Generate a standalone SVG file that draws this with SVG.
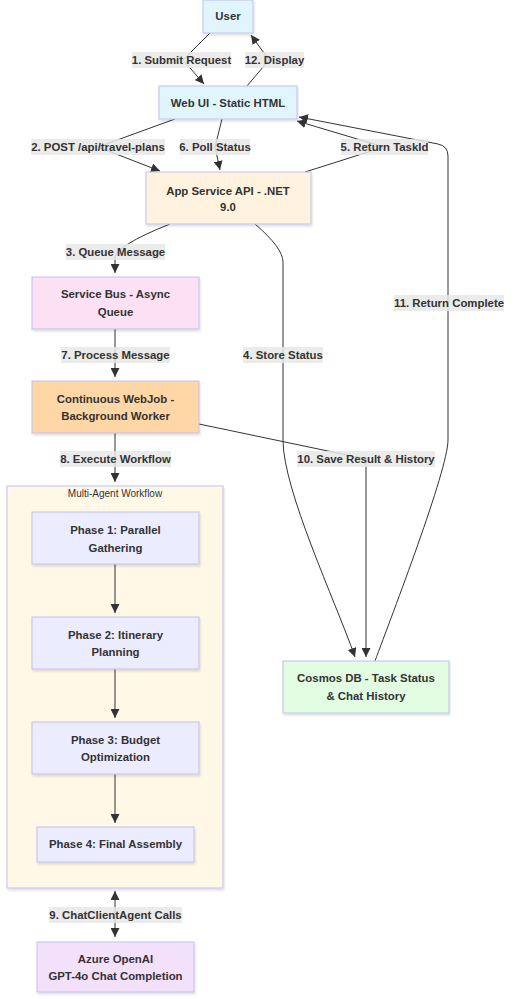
<svg xmlns="http://www.w3.org/2000/svg" width="514" height="999" viewBox="0 0 514 999">
<style>
.node rect{stroke:#c0c0f0;stroke-width:1}
.t{font-family:"Liberation Sans",Arial,sans-serif;font-size:11.4px;font-weight:bold;fill:#333;text-anchor:middle}
.ct{font-family:"Liberation Sans",Arial,sans-serif;font-size:10px;fill:#333;text-anchor:middle}
.e{fill:none;stroke:#333;stroke-width:1}
.lb{fill:#e8e8e8;fill-opacity:0.85}
</style>
<defs>
<marker id="ah" viewBox="0 0 10 10" refX="10" refY="5" markerUnits="userSpaceOnUse" markerWidth="9" markerHeight="9" orient="auto"><path d="M0,0 L10,5 L0,10 z" fill="#333"/></marker>
<marker id="as" viewBox="0 0 10 10" refX="0" refY="5" markerUnits="userSpaceOnUse" markerWidth="9" markerHeight="9" orient="auto"><path d="M10,0 L0,5 L10,10 z" fill="#333"/></marker>
<filter id="sh" x="-10%" y="-10%" width="130%" height="140%"><feDropShadow dx="1" dy="2" stdDeviation="1" flood-color="#000" flood-opacity="0.12"/></filter>
</defs>
<rect width="514" height="999" fill="#fff"/>

<g id="cluster">
<rect x="7" y="486" width="216" height="402" fill="#fff8e6" stroke="#c0c0f0" stroke-width="1" filter="url(#sh)"/>
<text class="ct" x="115" y="497">Multi-Agent Workflow</text>
</g>

<g id="edges">
<path class="e" d="M210,33 L183,60 L204,84" marker-end="url(#ah)"/>
<path class="e" d="M247,86 L269,60 L251,35" marker-end="url(#ah)"/>
<path class="e" d="M175,119 L98,147 L160,171" marker-end="url(#ah)"/>
<path class="e" d="M222,119 L215,147 L220,170" marker-end="url(#ah)"/>
<path class="e" d="M305,172 L384,147 L297,121" marker-end="url(#ah)"/>
<path class="e" d="M375,661 C392,615 448,470 448,440 L448,156 Q448,146 438,144 L299,117" marker-end="url(#ah)"/>
<path class="e" d="M255,224 Q283,248 283,262 L283,440 C283,490 335,600 355,657" marker-end="url(#ah)"/>
<path class="e" d="M199,424 L366,459 L366,657" marker-end="url(#ah)"/>
<path class="e" d="M170,224 Q115,246 115,258 L115,273" marker-end="url(#ah)"/>
<path class="e" d="M115,329 L115,377" marker-end="url(#ah)"/>
<path class="e" d="M115,433 L115,482" marker-end="url(#ah)"/>
<path class="e" d="M115,564 L115,613" marker-end="url(#ah)"/>
<path class="e" d="M115,669 L115,718" marker-end="url(#ah)"/>
<path class="e" d="M115,774 L115,823" marker-end="url(#ah)"/>
<path class="e" d="M115,891 L115,937" marker-start="url(#as)" marker-end="url(#ah)"/>

<rect class="lb" x="132" y="52" width="99" height="16"/><text class="t" x="181.5" y="64">1. Submit Request</text>
<rect class="lb" x="245" y="52" width="59" height="16"/><text class="t" x="274.5" y="64">12. Display</text>
<rect class="lb" x="31" y="139" width="134" height="16"/><text class="t" x="98" y="151">2. POST /api/travel-plans</text>
<rect class="lb" x="180" y="139" width="70" height="16"/><text class="t" x="215" y="151">6. Poll Status</text>
<rect class="lb" x="341" y="139" width="87" height="16"/><text class="t" x="384.5" y="151">5. Return TaskId</text>
<rect class="lb" x="66" y="244" width="99" height="16"/><text class="t" x="115.5" y="256">3. Queue Message</text>
<rect class="lb" x="394" y="295" width="110" height="16"/><text class="t" x="449" y="307">11. Return Complete</text>
<rect class="lb" x="61" y="347" width="109" height="16"/><text class="t" x="115.5" y="359">7. Process Message</text>
<rect class="lb" x="243" y="347" width="80" height="16"/><text class="t" x="283" y="359">4. Store Status</text>
<rect class="lb" x="60" y="451" width="111" height="16"/><text class="t" x="115.5" y="463">8. Execute Workflow</text>
<rect class="lb" x="297" y="451" width="138" height="16"/><text class="t" x="366" y="463">10. Save Result &amp; History</text>
<rect class="lb" x="49" y="907" width="133" height="16"/><text class="t" x="115.5" y="919">9. ChatClientAgent Calls</text>
</g>

<g id="user" class="node"><rect x="203" y="0" width="50" height="33" fill="#e1f5fe" filter="url(#sh)"/><text class="t" x="228" y="20">User</text></g>
<g id="webui" class="node"><rect x="159" y="86" width="138" height="33" fill="#e1f5fe" filter="url(#sh)"/><text class="t" x="228" y="107">Web UI - Static HTML</text></g>
<g id="api" class="node"><rect x="146" y="172" width="165" height="52" fill="#fff3e0" filter="url(#sh)"/><text class="t" x="228" y="195">App Service API - .NET</text><text class="t" x="228" y="211">9.0</text></g>
<g id="bus" class="node"><rect x="32" y="277" width="167" height="52" fill="#fce0f3" filter="url(#sh)"/><text class="t" x="115.5" y="298">Service Bus - Async</text><text class="t" x="115.5" y="316">Queue</text></g>
<g id="webjob" class="node"><rect x="32" y="381" width="167" height="52" fill="#ffd6a5" filter="url(#sh)"/><text class="t" x="115.5" y="403">Continuous WebJob -</text><text class="t" x="115.5" y="420">Background Worker</text></g>
<g id="cosmos" class="node"><rect x="283" y="661" width="166" height="52" fill="#e2fde2" filter="url(#sh)"/><text class="t" x="366" y="682">Cosmos DB - Task Status</text><text class="t" x="366" y="700">&amp; Chat History</text></g>
<g id="phase1" class="node"><rect x="32" y="512" width="167" height="52" fill="#ececff" filter="url(#sh)"/><text class="t" x="115.5" y="534">Phase 1: Parallel</text><text class="t" x="115.5" y="552">Gathering</text></g>
<g id="phase2" class="node"><rect x="32" y="617" width="167" height="52" fill="#ececff" filter="url(#sh)"/><text class="t" x="115.5" y="639">Phase 2: Itinerary</text><text class="t" x="115.5" y="656">Planning</text></g>
<g id="phase3" class="node"><rect x="32" y="722" width="167" height="52" fill="#ececff" filter="url(#sh)"/><text class="t" x="115.5" y="744">Phase 3: Budget</text><text class="t" x="115.5" y="761">Optimization</text></g>
<g id="phase4" class="node"><rect x="37" y="827" width="157" height="35" fill="#ececff" filter="url(#sh)"/><text class="t" x="115.5" y="848">Phase 4: Final Assembly</text></g>
<g id="openai" class="node"><rect x="37" y="942" width="157" height="50" fill="#f3e0fb" filter="url(#sh)"/><text class="t" x="115.5" y="963">Azure OpenAI</text><text class="t" x="115.5" y="980">GPT-4o Chat Completion</text></g>
</svg>
